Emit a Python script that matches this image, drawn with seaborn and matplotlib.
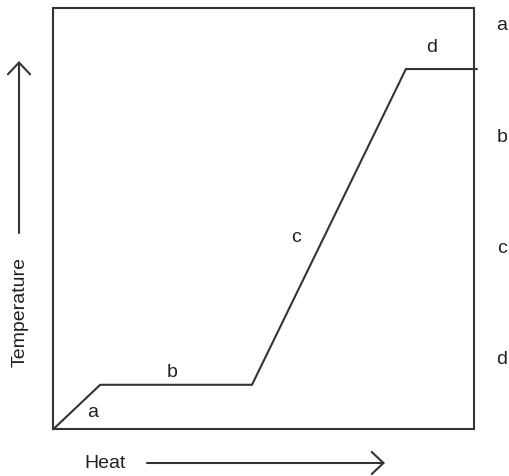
import matplotlib
matplotlib.use("Agg")
import matplotlib.pyplot as plt
import seaborn as sns
import pandas as pd

# heating curve, both axes as percent of the box
heat = [0, 11.1, 47.2, 83.8, 100.7]
temperature = [0, 10.5, 10.5, 85.5, 85.5]
segment_labels = ['a', 'b', 'c', 'd']
segment_x = [9.2, 28.2, 57.7, 90.0]
segment_y = [4.0, 13.5, 45.4, 90.7]
side_labels = ['a', 'b', 'c', 'd']

W, H = 510, 476
ink = '#333333'

sns.set_style('white')
plt.rcParams['font.family'] = ['Liberation Sans', 'DejaVu Sans']

fig = plt.figure(figsize=(W / 100, H / 100), dpi=100)
ax = fig.add_axes([53.5 / W, (H - 429) / H, (474 - 53.5) / W, (429 - 8) / H])

df = pd.DataFrame({'Heat': heat, 'Temperature': temperature})
sns.lineplot(data=df, x='Heat', y='Temperature', color=ink, linewidth=1.5,
             sort=False, ax=ax, clip_on=False)
ax.set_xlim(0, 100)
ax.set_ylim(0, 100)
ax.set_xticks([])
ax.set_yticks([])
ax.set_xlabel('')
ax.set_ylabel('')
for s in ax.spines.values():
    s.set_color(ink)
    s.set_linewidth(1.5)

for lab, x, y in zip(segment_labels, segment_x, segment_y):
    ax.text(x, y, lab, ha='center', va='center', fontsize=14, color='#222222')


def px(x, y):
    return x / W, 1 - y / H


side_y = [25, 137, 248, 360]
for lab, y in zip(side_labels, side_y):
    fig.text(*px(502, y), lab, ha='center', va='center', fontsize=14, color='#222222')

fig.text(*px(105, 463), 'Heat', ha='center', va='center', fontsize=14, color='#222222')
fig.text(*px(20, 312), 'Temperature', ha='center', va='center', rotation=90,
         fontsize=14, color='#222222')

arrow = dict(arrowstyle='->,head_length=8.5,head_width=8', mutation_scale=1,
             color=ink, lw=1.5, shrinkA=0, shrinkB=0)
ax.annotate('', xy=(19, H - 61), xytext=(19, H - 233), xycoords='figure pixels',
            textcoords='figure pixels', arrowprops=arrow)
ax.annotate('', xy=(385, H - 463), xytext=(147, H - 463), xycoords='figure pixels',
            textcoords='figure pixels', arrowprops=arrow)

fig.savefig('out.png', dpi=100)
